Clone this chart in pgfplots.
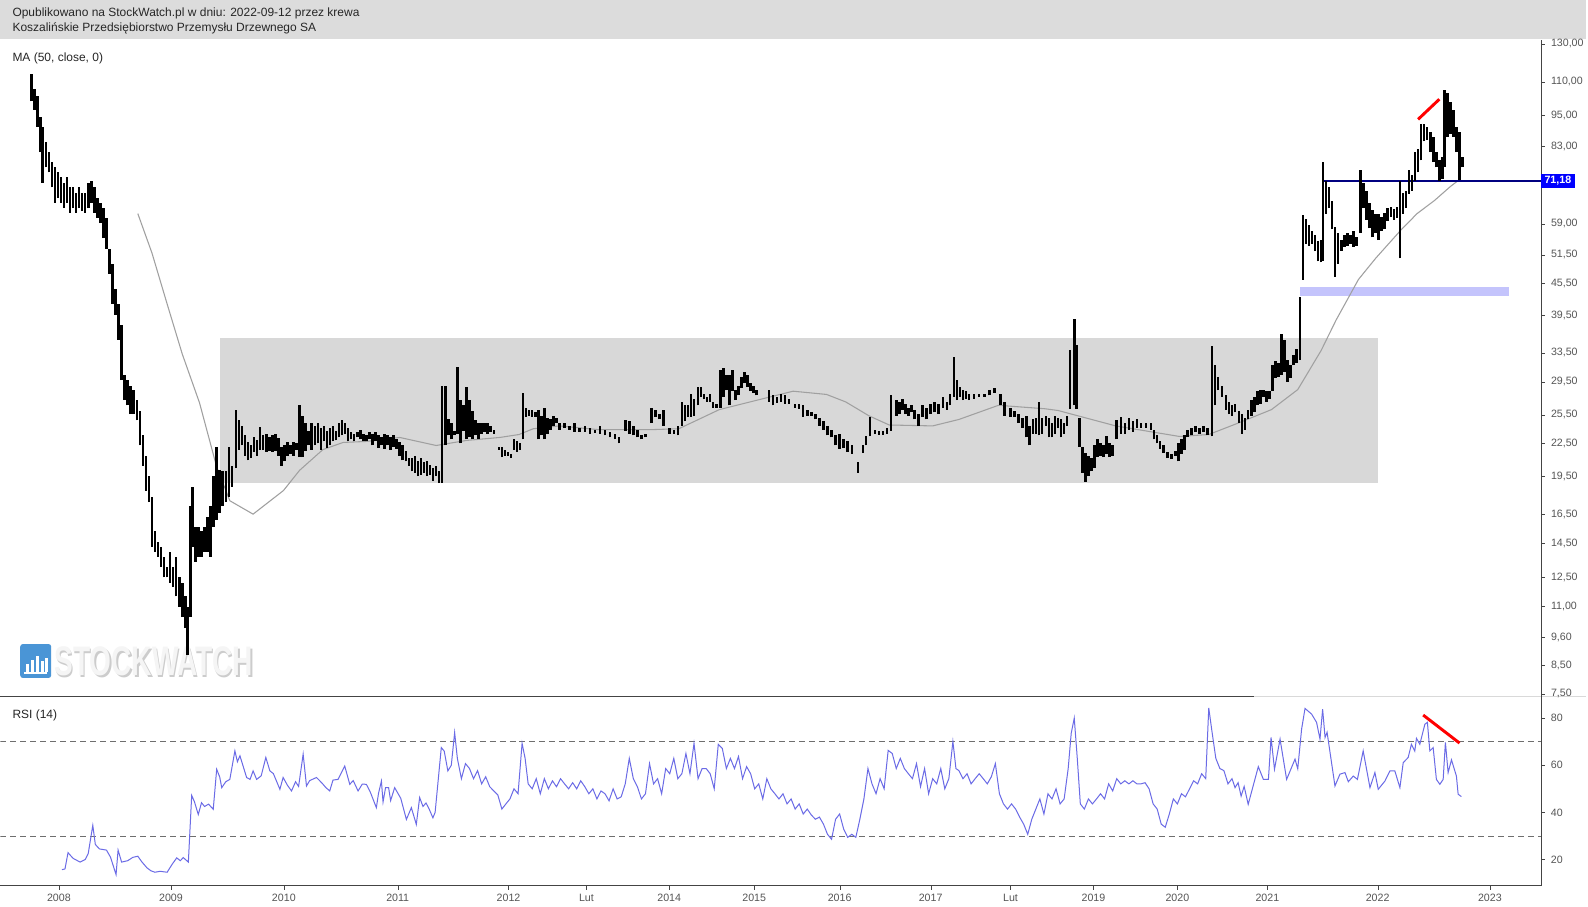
\documentclass[border=0pt]{standalone}
\usepackage{fontspec}
\setmainfont{Liberation Sans}
\usepackage{pgfplots}
\pgfplotsset{compat=1.18}

\definecolor{hdr}{HTML}{DCDCDC}
\definecolor{boxgray}{HTML}{D8D8D8}
\definecolor{axgray}{HTML}{444444}
\definecolor{dashgray}{HTML}{6E6E6E}
\definecolor{lblgray}{HTML}{555555}
\definecolor{magray}{HTML}{A0A0A0}
\definecolor{rsiblue}{HTML}{6B6BE6}
\definecolor{band}{HTML}{C4C4FC}
\definecolor{navy}{HTML}{000080}
\definecolor{wmblue}{HTML}{4A95D6}

% high-low bar: drawn upward from the low, 171.17pt per ln unit (log axis scale)
\pgfdeclareplotmark{hlbar}{%
  \pgfmathsetmacro\barlen{171.17*ln(\bhi/\blo)}%
  \pgfpathmoveto{\pgfqpoint{0pt}{0pt}}%
  \pgfpathlineto{\pgfqpoint{0pt}{\barlen pt}}%
  \pgfusepathqstroke}

\pgfplotsset{
  panel/.style={
    anchor=south west, scale only axis,
    width=1157.25pt, xmin=0, xmax=1523.5,
    axis line style={axgray,-}, tick style={axgray},
    major tick length=3pt, tick align=outside,
    /pgf/number format/assume math mode=true,
    yticklabel style={font=\fontsize{8}{9}\selectfont, text=lblgray, xshift=1pt},
    xticklabel style={font=\fontsize{8}{9}\selectfont, text=lblgray},
  },
}

\begin{document}
\begin{tikzpicture}
\begin{scope}[x=0.75pt,y=0.75pt]
\useasboundingbox (0,0) rectangle (1588,905);
\fill[white] (0,0) rectangle (1588,905);
\fill[hdr] (0,866) rectangle (1588,905);
\node[anchor=west, font=\fontsize{9}{11}\selectfont, text=black!85, inner sep=0pt] at (12,892) {Opublikowano na StockWatch.pl w dniu: 2022-09-12 przez krewa};
\node[anchor=west, font=\fontsize{9}{11}\selectfont, text=black!85, inner sep=0pt] at (12,877) {Koszalińskie Przedsiębiorstwo Przemysłu Drzewnego SA};
\node[anchor=west, font=\fontsize{9}{11}\selectfont, text=black!85, inner sep=0pt] at (12,847) {MA (50, close, 0)};
\node[anchor=west, font=\fontsize{9}{11}\selectfont, text=black!85, inner sep=0pt] at (12,189) {RSI (14)};
% watermark
\fill[wmblue, rounded corners=2pt] (20,226) rectangle (51,260);
\foreach \h/\xx in {8/26,12/31,16/36,11/41,14/45} \fill[white] (\xx,232) rectangle ++(3,\h);
\fill[white] (24,230) rectangle (47,231.5);
\node[anchor=west, inner sep=0pt, font=\fontsize{31}{31}\bfseries, text=black!20, xscale=0.68] at (55.5,241) {STOCKWATCH};
\node[anchor=west, inner sep=0pt, font=\fontsize{31}{31}\bfseries, text=black!4, xscale=0.68] at (54,242.5) {STOCKWATCH};
% panel separator
\draw[axgray] (0,208) -- (1256,208);
\draw[black!15] (1256,208) -- (1588,208);
\end{scope}

\begin{axis}[panel, at={(0pt,156pt)}, height=492.75pt,
  ymode=log, ymin=7.43, ymax=132.2,
  hide x axis, axis y line*=right, yminorticks=false,
  ytick={7.5,8.5,9.6,11,12.5,14.5,16.5,19.5,22.5,25.5,29.5,33.5,39.5,45.5,51.5,59,83,95,110,130},
  yticklabels={{7,50},{8,50},{9,60},{11,00},{12,50},{14,50},{16,50},{19,50},{22,50},{25,50},{29,50},{33,50},{39,50},{45,50},{51,50},{59,00},{83,00},{95,00},{110,00},{130,00}},
]
\addplot[fill=boxgray, draw=none] coordinates {(217,18.9)(1362,18.9)(1362,35.7)(217,35.7)};
\addplot[fill=band, draw=none] coordinates {(1285,42.97)(1492,42.97)(1492,44.7)(1285,44.7)};
\addplot[magray, line width=0.8pt] coordinates {
(136,61.7)(150,51.9)(165,41.5)(180,33.3)(197,26.9)(214,20.3)(227,17.5)(250,16.5)(280,18.3)(296,20.0)
(319,21.9)(339,22.6)(362,22.7)(395,23.1)(431,22.3)(461,22.8)(494,23.1)(513,23.4)(527,24.0)(553,24.3)
(592,23.9)(642,23.9)(671,24.0)(711,26.1)(758,27.5)(784,28.3)(817,27.9)(836,27.0)(859,25.4)(879,24.4)
(922,24.3)(948,25.0)(987,26.6)(1033,26.2)(1046,26.0)(1103,24.3)(1166,23.2)(1195,23.4)(1224,24.6)(1257,26.1)
(1283,28.5)(1306,33.8)(1321,38.7)(1343,46.2)(1360,50.7)(1385,57.4)(1401,61.7)(1418,65.3)(1434,69.5)(1442,71.4)};
\addplot[only marks, mark=hlbar, mark options={black, line width=1.9pt},
  visualization depends on={value \thisrow{lo} \as \blo},
  visualization depends on={value \thisrow{hi} \as \bhi}]
  table[x=x, y=lo, row sep=\\] {
x lo hi\\
31 100.9 113.8\\ 34 97.4 106.4\\ 37 90.3 103.2\\ 40 80.8 94.4\\ 42 70.7 90.3\\ 45 75.6 84.5\\
48 73.9 80.8\\ 51 69.2 77.3\\ 54 64.7 75.6\\ 57 66.1 73.9\\ 60 64.7 72.3\\ 63 63.2 70.7\\
66 64.7 72.3\\ 69 61.9 69.2\\ 72 63.2 69.2\\ 75 61.9 67.6\\ 78 63.2 69.2\\ 81 62.4 67.6\\
84 61.9 67.6\\ 87 63.2 70.7\\ 90 64.7 71.3\\ 93 61.9 69.2\\ 96 60.6 66.1\\ 99 59.2 64.7\\
102 55.4 63.2\\ 105 52.9 60.6\\ 108 47.4 52.9\\ 111 41.5 49.5\\ 114 39.6 44.3\\ 117 35.5 41.5\\
120 29.7 37.9\\ 123 27.2 30.4\\ 126 26.6 29.7\\ 129 25.6 29.0\\ 132 25.6 28.4\\ 135 24.9 27.2\\
138 22.3 26.0\\ 141 20.4 23.3\\ 144 18.3 21.3\\ 147 17.4 19.5\\ 150 14.3 17.8\\ 153 14.0 15.3\\
156 13.7 14.6\\ 159 13.1 14.3\\ 162 12.5 13.7\\ 165 12.5 13.1\\ 168 12.2 14.0\\ 171 12.0 13.1\\
174 11.5 13.7\\ 177 11.0 12.5\\ 180 10.5 12.2\\ 183 10.0 11.5\\ 185 8.9 11.0\\ 188 10.5 17.1\\
190 14.3 18.6\\ 193 13.4 15.6\\ 196 13.7 15.6\\ 199 13.7 15.3\\ 202 14.0 15.6\\ 205 14.0 16.3\\
208 13.7 17.1\\ 211 15.6 19.5\\ 214 16.1 22.2\\ 217 16.6 20.0\\ 220 17.1 19.9\\ 223 17.4 19.9\\
226 17.8 22.2\\ 229 18.6 20.4\\ 233 20.2 26.0\\ 236 21.9 24.9\\ 239 22.3 24.3\\ 242 21.3 23.3\\
245 20.9 22.6\\ 248 21.1 22.3\\ 251 21.7 23.1\\ 254 21.3 22.8\\ 257 21.9 24.2\\ 260 21.9 23.3\\
263 21.7 23.5\\ 266 21.8 23.1\\ 269 21.7 23.3\\ 272 21.8 23.5\\ 275 21.3 23.0\\ 278 20.4 22.2\\
281 20.8 22.3\\ 284 21.3 22.6\\ 287 21.5 22.3\\ 290 21.3 22.6\\ 293 21.9 22.5\\ 296 21.2 26.6\\
299 21.2 25.4\\ 302 21.8 24.6\\ 305 22.3 23.8\\ 308 21.9 24.6\\ 311 22.3 24.3\\ 314 22.5 24.6\\
317 21.9 24.1\\ 320 22.7 24.3\\ 323 22.1 23.8\\ 326 22.3 24.1\\ 329 22.7 24.3\\ 332 22.8 23.8\\
335 23.1 24.6\\ 338 23.3 24.9\\ 341 23.5 24.6\\ 344 22.7 24.1\\ 347 22.9 23.7\\ 350 22.7 23.5\\
353 23.1 23.7\\ 356 22.9 23.9\\ 359 22.7 23.5\\ 362 22.7 23.3\\ 365 22.9 23.7\\ 368 22.3 23.5\\
371 22.7 23.7\\ 374 22.1 23.3\\ 377 22.3 23.1\\ 380 22.0 23.5\\ 383 22.3 23.3\\ 386 21.9 23.1\\
389 22.2 23.3\\ 392 22.0 22.9\\ 395 21.3 22.6\\ 398 20.9 22.3\\ 401 20.8 21.8\\ 404 20.4 21.1\\
407 19.9 21.1\\ 410 19.8 21.3\\ 413 19.5 20.8\\ 416 19.6 21.1\\ 419 19.8 20.7\\ 422 19.5 20.8\\
425 19.6 20.5\\ 428 19.1 20.2\\ 431 19.5 20.4\\ 434 18.9 19.9\\ 437 18.9 29.0\\ 440 22.3 29.0\\
443 23.3 25.0\\ 446 22.9 24.6\\ 449 23.3 23.8\\ 452 23.5 31.4\\ 455 22.5 27.2\\ 458 23.8 26.6\\
461 22.9 28.8\\ 464 23.1 27.2\\ 467 22.9 26.0\\ 470 23.3 24.9\\ 473 22.9 24.6\\ 476 23.5 24.6\\
479 23.7 24.6\\ 482 23.5 24.6\\ 485 23.7 24.3\\ 488 23.5 23.9\\ 493 21.9 22.2\\ 496 21.2 22.2\\
499 21.3 21.9\\ 502 21.3 21.7\\ 505 21.1 21.5\\ 508 21.9 22.9\\ 511 21.7 22.7\\ 514 21.9 22.5\\
517 22.9 28.1\\ 520 25.3 26.3\\ 523 25.4 26.1\\ 526 25.3 26.1\\ 529 25.3 25.8\\ 532 22.9 26.1\\
535 23.3 25.4\\ 538 22.9 26.3\\ 541 23.5 25.2\\ 544 23.9 25.0\\ 547 24.3 25.4\\ 550 24.6 25.2\\
553 23.9 24.6\\ 558 24.1 24.6\\ 563 23.9 24.3\\ 568 23.7 24.6\\ 573 23.7 24.1\\ 578 23.7 24.3\\
583 23.5 24.1\\ 588 23.6 23.9\\ 593 23.5 24.3\\ 598 23.3 23.9\\ 603 23.1 23.7\\ 608 22.9 23.5\\
612 22.5 23.1\\ 618 23.8 24.9\\ 622 23.5 24.8\\ 626 23.3 24.3\\ 630 23.1 23.9\\ 634 22.9 23.3\\
638 23.1 23.5\\ 644 24.6 26.3\\ 648 25.3 26.1\\ 652 25.0 25.6\\ 656 24.3 26.1\\ 662 23.5 24.1\\
666 23.5 23.9\\ 670 23.3 24.3\\ 674 24.3 27.0\\ 677 24.8 26.6\\ 680 25.3 26.6\\ 683 25.3 28.0\\
686 25.4 27.3\\ 690 26.6 28.8\\ 693 27.6 28.8\\ 696 27.3 28.0\\ 699 27.0 27.6\\ 702 27.0 28.0\\
705 26.3 27.0\\ 708 26.3 26.8\\ 712 26.3 31.0\\ 715 27.6 31.4\\ 718 28.4 30.4\\ 721 26.6 30.4\\
724 28.3 31.0\\ 727 27.2 28.4\\ 730 27.8 29.0\\ 733 28.7 30.1\\ 736 29.3 30.8\\ 739 28.8 30.4\\
742 28.3 29.3\\ 745 28.1 29.0\\ 748 27.8 28.4\\ 760 27.0 28.4\\ 764 26.6 27.8\\ 768 26.9 27.6\\
772 27.0 28.0\\ 776 26.8 27.8\\ 780 26.8 27.3\\ 786 26.3 26.8\\ 790 26.2 26.8\\ 794 25.3 26.6\\
798 25.4 26.1\\ 802 25.4 25.8\\ 806 25.0 25.6\\ 810 24.3 25.2\\ 814 23.9 24.8\\ 818 23.3 24.3\\
822 23.1 23.9\\ 826 22.3 23.3\\ 830 22.0 23.5\\ 834 22.1 22.9\\ 838 21.7 22.7\\ 842 21.5 22.3\\
848 19.8 20.7\\ 853 21.6 22.3\\ 856 22.3 23.2\\ 860 23.2 25.3\\ 865 23.5 23.9\\ 869 23.4 23.8\\
873 23.4 23.8\\ 877 23.5 24.1\\ 881 23.8 27.8\\ 886 25.4 27.2\\ 889 25.6 27.0\\ 892 26.1 27.3\\
895 25.6 26.8\\ 898 25.4 26.3\\ 901 25.8 26.6\\ 904 25.0 26.1\\ 908 24.3 25.6\\ 912 25.3 26.6\\
916 25.0 26.3\\ 920 25.6 26.8\\ 924 25.8 27.0\\ 928 25.6 26.8\\ 932 26.3 27.6\\ 936 26.1 27.0\\
939 26.6 28.0\\ 943 27.6 32.9\\ 946 27.2 29.7\\ 949 27.6 28.8\\ 952 27.2 28.4\\ 955 27.4 28.3\\
958 27.2 28.0\\ 963 27.4 28.0\\ 968 27.6 28.0\\ 973 27.6 28.0\\ 978 27.8 28.4\\ 983 28.1 28.7\\
989 26.6 28.0\\ 993 25.4 27.0\\ 999 25.3 26.3\\ 1003 25.3 25.9\\ 1007 24.6 25.6\\ 1011 24.1 25.2\\
1015 23.1 25.4\\ 1018 22.3 24.3\\ 1021 23.5 25.0\\ 1024 23.5 25.2\\ 1027 23.3 27.0\\ 1030 23.5 25.2\\
1034 24.3 25.4\\ 1037 23.1 25.2\\ 1040 23.1 24.6\\ 1043 23.5 25.4\\ 1046 24.1 25.2\\ 1049 23.1 25.0\\
1052 23.5 24.6\\ 1055 24.3 25.4\\ 1058 26.2 33.9\\ 1062 26.6 38.9\\ 1064 26.2 34.7\\ 1067 22.2 25.2\\
1070 19.8 22.2\\ 1073 19.0 21.6\\ 1076 19.5 21.3\\ 1079 19.9 21.1\\ 1082 20.2 22.3\\ 1085 21.2 22.9\\
1088 21.3 22.5\\ 1091 21.2 22.3\\ 1094 21.5 23.2\\ 1097 21.2 22.5\\ 1100 21.3 22.3\\ 1104 22.9 24.9\\
1108 23.5 25.3\\ 1112 23.5 24.6\\ 1116 23.9 25.2\\ 1120 23.7 24.8\\ 1124 24.1 25.0\\ 1128 24.1 24.6\\
1133 24.1 24.6\\ 1138 23.9 24.6\\ 1141 22.9 23.9\\ 1144 22.5 23.3\\ 1147 22.0 22.7\\ 1150 21.6 22.3\\
1154 21.1 21.7\\ 1158 21.0 21.5\\ 1162 21.3 21.8\\ 1165 20.8 22.5\\ 1168 21.5 22.9\\ 1171 21.9 23.3\\
1174 23.1 23.9\\ 1178 23.3 24.1\\ 1182 23.7 24.3\\ 1186 23.5 24.1\\ 1190 23.7 24.3\\ 1194 23.3 24.1\\
1198 23.2 34.5\\ 1201 26.6 31.7\\ 1204 28.4 30.1\\ 1208 27.6 29.0\\ 1212 26.1 27.8\\ 1215 25.6 27.0\\
1218 25.4 26.6\\ 1221 25.8 26.8\\ 1225 24.6 25.9\\ 1228 23.5 25.6\\ 1231 23.9 25.2\\ 1234 25.0 26.1\\
1237 25.4 27.2\\ 1240 25.8 27.6\\ 1243 26.6 28.3\\ 1246 26.8 28.4\\ 1249 27.6 28.4\\ 1252 27.0 28.3\\
1255 27.3 28.3\\ 1258 28.3 31.7\\ 1261 30.0 32.3\\ 1264 30.1 32.0\\ 1267 30.4 36.4\\ 1270 30.8 35.5\\
1273 29.5 32.5\\ 1276 30.0 31.7\\ 1279 31.7 33.2\\ 1282 32.0 34.0\\ 1285 32.5 42.8\\ 1288 46.1 61.4\\
1291 54.1 60.2\\ 1294 53.6 58.7\\ 1297 54.1 57.1\\ 1300 52.3 56.1\\ 1303 50.0 54.6\\ 1306 49.8 54.9\\
1308 50.2 77.3\\ 1311 61.6 71.3\\ 1314 63.2 69.2\\ 1317 57.6 65.1\\ 1320 46.8 58.1\\ 1323 49.5 56.6\\
1326 52.4 54.9\\ 1329 53.4 56.1\\ 1332 53.6 56.6\\ 1335 54.1 56.1\\ 1338 53.4 57.1\\ 1341 53.6 55.6\\
1345 56.6 74.6\\ 1348 63.2 70.7\\ 1351 60.0 68.2\\ 1354 57.9 64.7\\ 1357 55.6 62.6\\ 1360 56.6 61.6\\
1363 54.9 61.6\\ 1366 57.1 60.8\\ 1369 57.6 61.9\\ 1372 59.7 63.2\\ 1375 60.8 63.5\\ 1378 60.0 62.9\\
1381 60.6 63.5\\ 1384 50.7 71.3\\ 1387 61.6 67.6\\ 1390 63.2 68.2\\ 1393 67.3 74.6\\ 1396 68.2 73.2\\
1399 71.3 80.8\\ 1402 73.9 81.8\\ 1405 77.9 91.5\\ 1408 84.7 91.5\\ 1411 85.3 90.3\\ 1414 80.8 88.3\\
1417 77.3 86.3\\ 1420 75.6 80.8\\ 1423 71.3 78.0\\ 1426 71.9 79.0\\ 1428 75.6 106.0\\ 1431 86.3 104.6\\
1434 87.5 100.9\\ 1437 86.3 97.0\\ 1440 80.8 90.3\\ 1443 71.6 88.3\\ 1446 75.6 79.0\\
};
\addplot[navy, line width=0.9pt] coordinates {(1307,71.18)(1523.5,71.18)};
\addplot[red, line width=2.2pt] coordinates {(1402,93.3)(1423,101.9)};
\end{axis}
\node[anchor=west, fill=blue, text=white, inner xsep=2.5pt, inner ysep=2pt, font=\fontsize{8}{9}\bfseries] at (1157.25pt,542.8pt) {71,18};

\begin{axis}[panel, at={(0pt,13.5pt)}, height=142.5pt,
  ymin=8.9, ymax=89.4,
  axis x line*=bottom, axis y line*=right,
  ytick={20,40,60,80},
  xtick={58,168.8,280.4,393,502.6,579.6,661.5,745.5,830,920,999,1081,1164,1253,1362,1473},
  xticklabels={2008,2009,2010,2011,2012,Lut,2014,2015,2016,2017,Lut,2019,2020,2021,2022,2023},
]
\addplot[dashgray, line width=0.6pt, dash pattern=on 4.5pt off 3pt] coordinates {(0,70)(1523.5,70)};
\addplot[dashgray, line width=0.6pt, dash pattern=on 4.5pt off 3pt] coordinates {(0,30)(1523.5,30)};
\addplot[rsiblue, line width=0.75pt] coordinates {
(61,15.7)(64,16.0)(67,22.9)(72,20.5)(79,18.9)(84,20.0)(87,22.6)(91.5,34.5)(94,26.4)(98,24.5)(105,24.0)
(109,21.0)(114.5,13.6)(116.5,24.0)(120,18.9)(126,19.5)(131,20.9)(136,21.4)(140,19.0)(145,16.5)(149,15.2)
(153,14.6)(158,15.0)(165,14.6)(170,18.0)(174.5,20.7)(178,19.5)(181,20.8)(186,18.9)(189.3,47.2)(192,44.5)
(195.8,39.1)(199,44.1)(202,42.5)(206,43.5)(210.6,41.3)(214,58.3)(217,55.0)(219,50.5)(223,53.0)(227,54.0)
(232,66.1)(234.5,61.5)(237,64.0)(243.6,54.8)(247,54.0)(250,57.6)(253.5,54.0)(258,55.5)(262.6,63.3)(266.6,57.6)
(270,56.5)(276.5,49.8)(279.7,54.8)(284,51.5)(288,49.1)(292,53.0)(295,51.0)(299.5,64.7)(302.8,51.2)(306,53.5)
(312.7,54.8)(318,52.5)(322,50.5)(325.8,49.1)(329,53.7)(334,54.0)(340.6,59.7)(345.6,51.9)(349,53.5)(353.8,49.1)
(358,52.0)(362,51.9)(366,48.5)(371.9,42.0)(374,48.0)(376.9,53.3)(378.5,44.4)(381,50.5)(384,50.5)(386,45.0)
(390,50.5)(396,46.0)(401.6,37.0)(406.5,42.0)(411.4,34.9)(414.7,46.3)(418,42.5)(421,44.0)(424,41.5)(427.8,37.7)
(430,40.0)(436.1,67.5)(439,66.0)(442.6,57.6)(446,60.0)(449.3,73.9)(452,62.9)(456,54.3)(460,60.7)(464,58.6)
(468,54.3)(472,57.7)(476,52.1)(480,55.1)(484,50.9)(488,49.1)(492,47.4)(496,41.4)(500,43.6)(504,45.7)(508,50.0)
(512,47.9)(516,69.3)(519,62.9)(522,52.1)(526,50.0)(530,54.3)(534,47.9)(538,54.3)(542,50.0)(546,53.4)(550,50.9)
(554,54.3)(558,52.1)(562,50.0)(566,52.6)(570,50.0)(574,53.4)(578,50.9)(582,47.9)(586,50.0)(590,45.7)(594,49.1)
(598,47.9)(602,44.9)(606,50.0)(610,45.7)(614,46.6)(618,52.1)(622,62.9)(626,54.3)(630,50.9)(634,45.7)(638,47.9)
(642,60.7)(646,52.1)(650,54.3)(654,47.9)(658,58.6)(662,56.4)(666,62.9)(670,54.3)(674,56.4)(678,65.0)(682,56.4)
(686,69.3)(690,54.3)(694,58.6)(698,58.6)(702,56.4)(706,50.0)(710,68.9)(714,67.1)(718,58.6)(722,62.9)(726,58.6)
(730,63.7)(734,54.3)(738,59.4)(742,56.4)(746,50.0)(750,52.1)(754,45.7)(758,54.3)(762,50.0)(766,47.9)(770,45.7)
(774,47.9)(778,43.6)(782,45.7)(786,41.4)(790,43.6)(794,39.3)(798,41.4)(802,38.9)(806,37.1)(810,38.0)(814,35.0)
(818,30.7)(822,28.6)(826,37.1)(830,39.3)(834,32.9)(838,29.4)(842,30.7)(846,29.4)(850,37.1)(854,45.7)(858,58.6)
(862,52.1)(866,47.9)(870,54.3)(874,50.0)(878,66.3)(882,65.0)(886,58.6)(890,62.9)(894,58.6)(898,56.4)(902,54.3)
(906,60.7)(910,50.9)(914,58.6)(918,47.9)(922,54.3)(926,52.1)(930,58.6)(934,50.0)(938,54.3)(942,70.1)(945,58.6)
(948,57.7)(952,54.3)(956,56.4)(960,52.1)(964,54.3)(968,56.4)(972,54.3)(976,52.1)(980,55.1)(984,60.7)(988,47.9)
(992,43.6)(996,41.4)(1000,43.6)(1004,41.4)(1008,38.0)(1012,35.0)(1016,30.7)(1020,37.1)(1024,41.4)(1028,45.7)
(1032,39.3)(1036,47.9)(1040,45.7)(1044,50.0)(1048,43.6)(1052,45.7)(1056,58.6)(1059,73.6)(1062,80.0)(1065,62.9)
(1068,43.6)(1072,41.4)(1076,45.7)(1080,43.6)(1084,45.7)(1088,47.9)(1092,45.7)(1096,52.1)(1100,49.1)(1104,54.3)
(1108,52.1)(1112,53.4)(1116,52.1)(1120,53.4)(1124,52.1)(1128,52.1)(1132,52.6)(1136,50.0)(1140,43.6)(1144,41.4)
(1148,35.0)(1152,33.7)(1156,39.3)(1160,45.7)(1164,43.6)(1168,47.9)(1172,46.6)(1176,50.0)(1180,53.4)(1184,52.1)
(1188,56.4)(1192,54.3)(1195,84.3)(1198,74.9)(1202,62.9)(1206,58.6)(1210,57.7)(1214,52.1)(1218,54.3)(1221,50.5)
(1224,52.6)(1227,46.9)(1230,51.0)(1234,43.4)(1244,59.4)(1249,54.0)(1254,54.0)(1256.6,71.8)(1260,58.3)(1265.5,71.1)
(1272,54.0)(1280.3,62.6)(1283,58.5)(1286.8,75.3)(1290.2,84.1)(1296.7,81.7)(1301.6,78.2)(1305,71.1)(1307.6,83.8)
(1310,71.8)(1312,74.0)(1319.8,51.2)(1324.7,56.2)(1329.7,56.9)(1333,53.0)(1337.9,55.4)(1342,54.0)(1347.7,66.1)
(1354.4,50.5)(1359.3,56.9)(1362.6,49.8)(1369.2,53.3)(1374.1,57.6)(1379,57.6)(1384,50.5)(1387.3,61.1)(1392.2,63.3)
(1395.4,68.9)(1398.7,66.0)(1400.4,71.4)(1403.7,68.9)(1408.7,77.4)(1411.2,78.2)(1413.6,66.1)(1416.9,67.5)
(1420.1,54.0)(1423.5,51.9)(1426.8,54.0)(1429,69.7)(1431.7,56.9)(1435,62.3)(1439.9,55.4)(1441.6,47.7)(1444.8,46.7)};
\addplot[red, line width=2.2pt] coordinates {(1407,81.3)(1443,69.4)};
\end{axis}
\end{tikzpicture}
\end{document}
